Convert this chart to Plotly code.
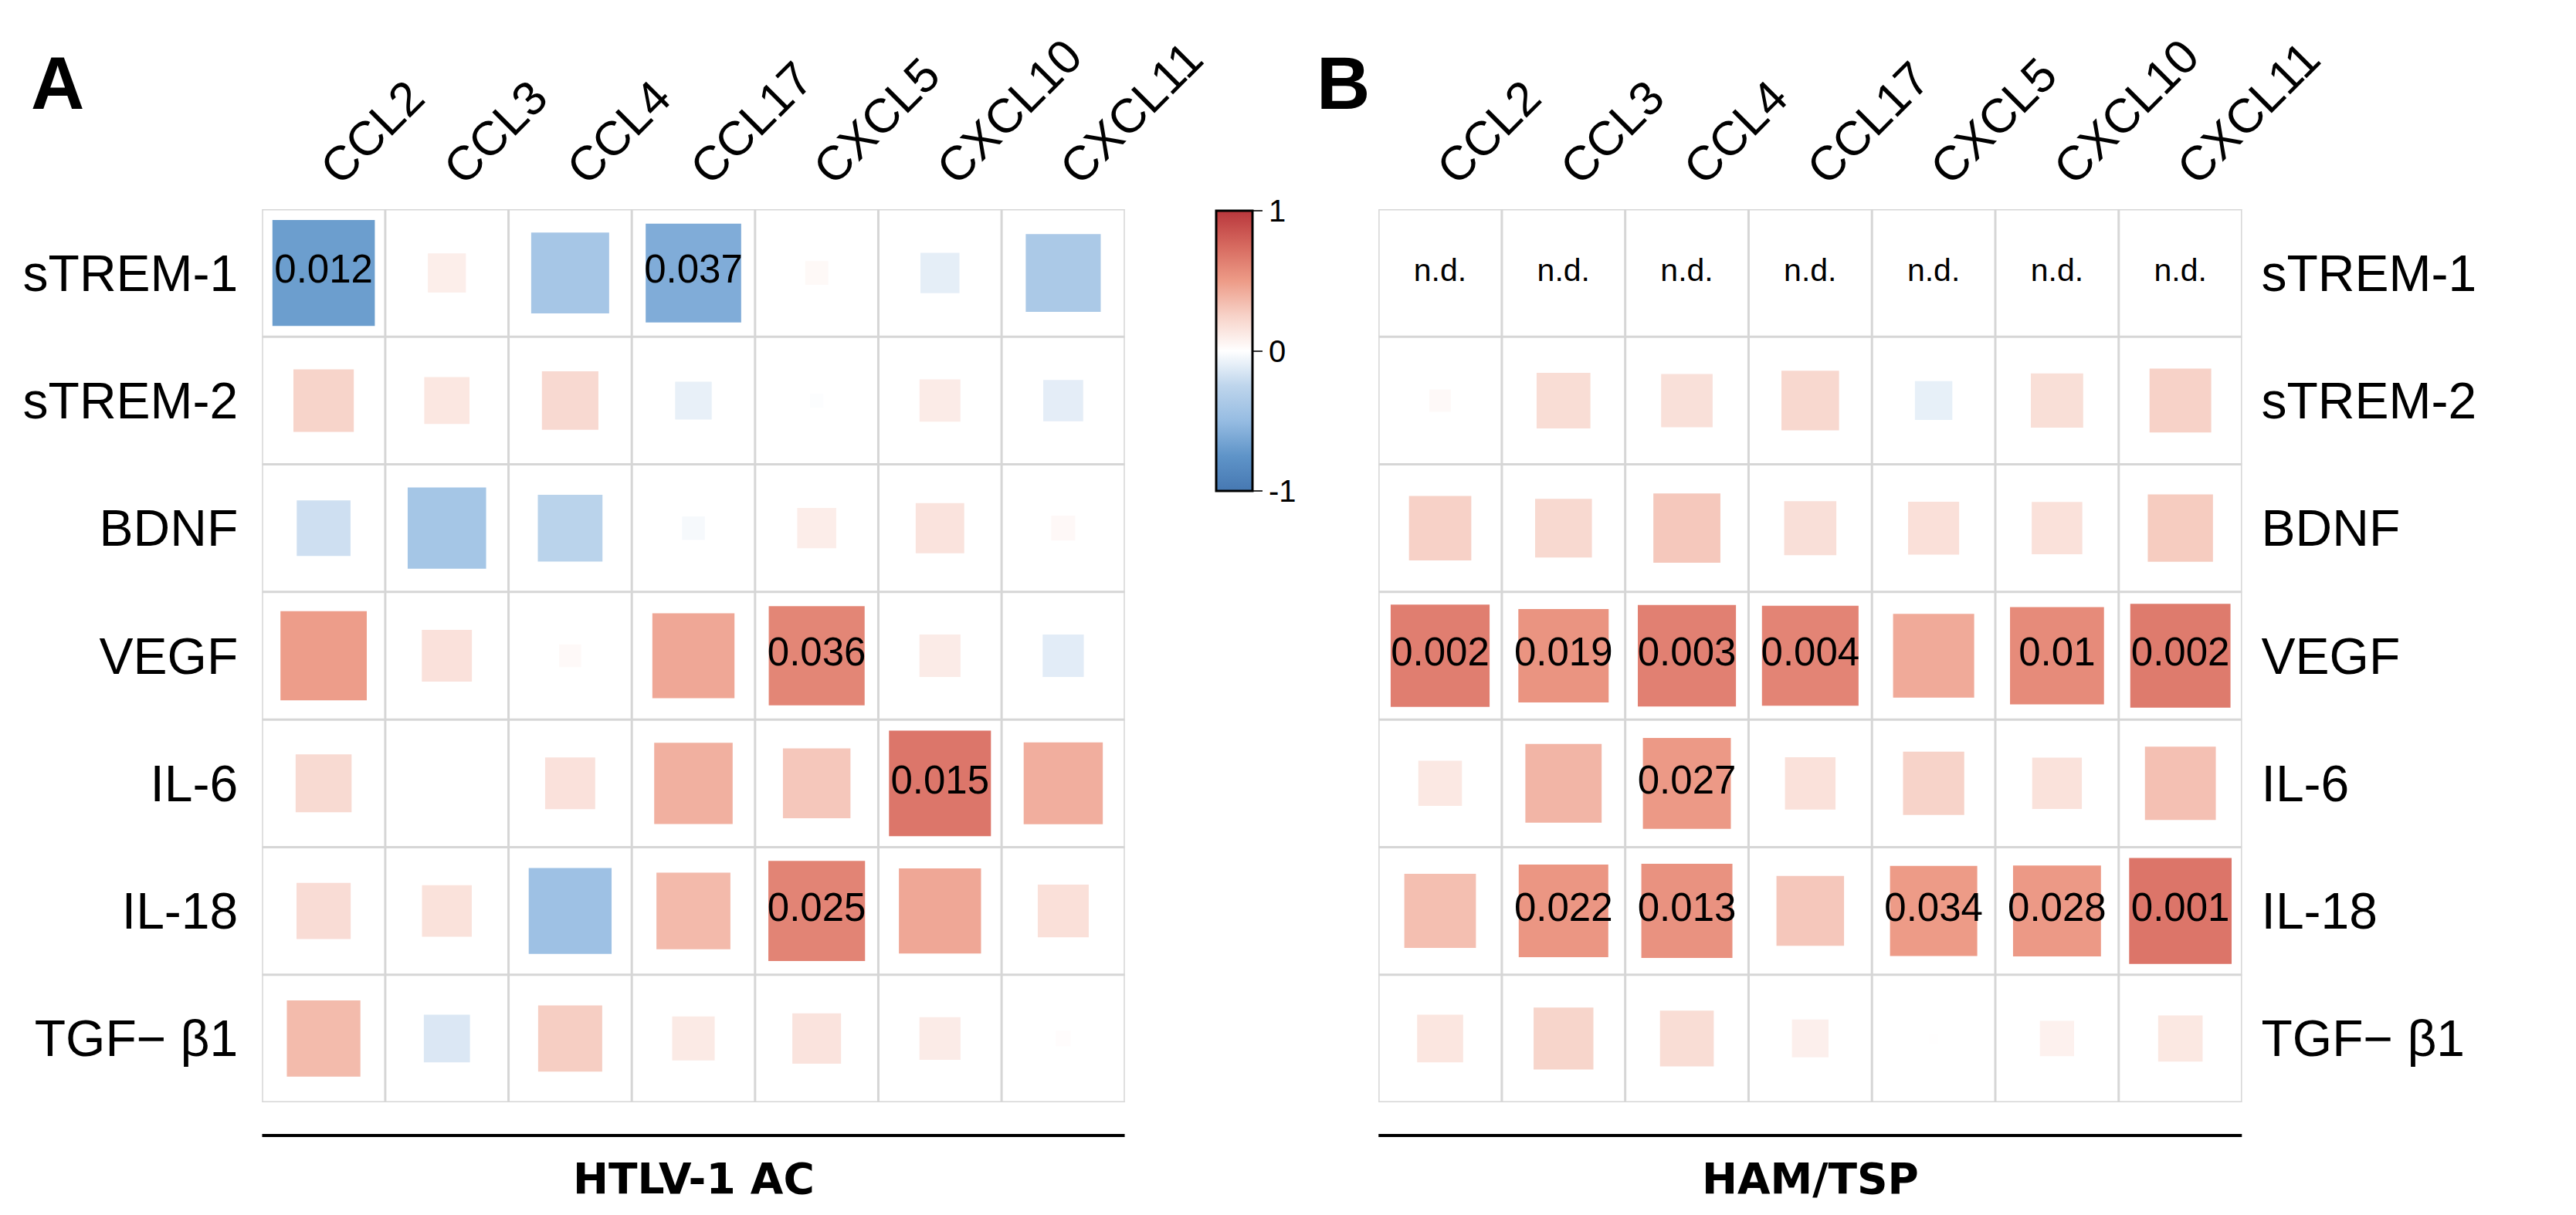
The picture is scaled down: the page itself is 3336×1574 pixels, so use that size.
import math
import plotly.graph_objects as go
from plotly.colors import sample_colorscale

# ---------------- data ----------------
columns = ["CCL2", "CCL3", "CCL4", "CCL17", "CXCL5", "CXCL10", "CXCL11"]
rows = ["sTREM-1", "sTREM-2", "BDNF", "VEGF", "IL-6", "IL-18", "TGF\u2212 \u03b21"]

# Spearman correlations, HTLV-1 asymptomatic carriers (rows x columns)
r_ac = [
    [-0.69, 0.095, -0.40, -0.60, 0.035, -0.10, -0.37],
    [0.24, 0.135, 0.21, -0.088, -0.012, 0.11, -0.105],
    [-0.19, -0.405, -0.275, -0.034, 0.10, 0.155, 0.038],
    [0.49, 0.165, 0.032, 0.444, 0.605, 0.111, -0.111],
    [0.206, 0.002, 0.165, 0.405, 0.30, 0.684, 0.412],
    [0.193, 0.163, -0.452, 0.36, 0.615, 0.444, 0.171],
    [0.356, -0.14, 0.27, 0.119, 0.156, 0.111, 0.015],
]
p_ac = [
    ["0.012", "", "", "0.037", "", "", ""],
    ["", "", "", "", "", "", ""],
    ["", "", "", "", "", "", ""],
    ["", "", "", "", "0.036", "", ""],
    ["", "", "", "", "", "0.015", ""],
    ["", "", "", "", "0.025", "", ""],
    ["", "", "", "", "", "", ""],
]

# Spearman correlations, HAM/TSP patients (sTREM-1 not determined)
r_ham = [
    [None, None, None, None, None, None, None],
    [0.031, 0.19, 0.174, 0.218, -0.092, 0.18, 0.25],
    [0.255, 0.212, 0.295, 0.179, 0.171, 0.168, 0.279],
    [0.643, 0.536, 0.633, 0.613, 0.432, 0.58, 0.66],
    [0.125, 0.382, 0.508, 0.168, 0.246, 0.162, 0.33],
    [0.337, 0.527, 0.545, 0.30, 0.50, 0.508, 0.69],
    [0.139, 0.235, 0.19, 0.088, 0.006, 0.077, 0.13],
]
p_ham = [
    ["n.d.", "n.d.", "n.d.", "n.d.", "n.d.", "n.d.", "n.d."],
    ["", "", "", "", "", "", ""],
    ["", "", "", "", "", "", ""],
    ["0.002", "0.019", "0.003", "0.004", "", "0.01", "0.002"],
    ["", "", "0.027", "", "", "", ""],
    ["", "0.022", "0.013", "", "0.034", "0.028", "0.001"],
    ["", "", "", "", "", "", ""],
]

group_labels = ["HTLV-1 AC", "HAM/TSP"]
panel_letters = ["A", "B"]
colorbar_ticks = [-1, 0, 1]

# colour scale (correlation value -> colour)
color_values = [-1, -0.75, -0.5, -0.25, 0, 0.25, 0.5, 0.75, 1]
color_hex = ["#4678B2", "#5F94C8", "#96BCE2", "#BED5EC", "#FFFFFF",
             "#F7D2C8", "#ED9B87", "#D6695F", "#B9373C"]
colorscale = [[(v + 1) / 2, c] for v, c in zip(color_values, color_hex)]

# ---------------- layout geometry ----------------
W, H = 3336, 1574
GRID_TOP, GRID_BOT = 263, 1420
PANEL_X = [(343, 1500), (1840, 2998)]
LINE_Y = 1463
GROUP_Y = 1519
FONT = "Liberation Sans, Arial, sans-serif"
GRID_COLOR = "#D6D6D6"


def fx(px):
    return px / W


def fy(px):
    return 1 - px / H


fig = go.Figure()
shapes = []
annotations = []
n_r, n_c = len(rows), len(columns)

panels = [(r_ac, p_ac), (r_ham, p_ham)]
for k, (rv, pv) in enumerate(panels):
    xa = "x" if k == 0 else "x2"
    ya = "y" if k == 0 else "y2"
    # grid
    for c in range(n_c + 1):
        shapes.append(dict(type="line", xref=xa, yref=ya, x0=c - 0.5, x1=c - 0.5,
                           y0=-0.5, y1=n_r - 0.5, line=dict(color=GRID_COLOR, width=3),
                           layer="below"))
    for r in range(n_r + 1):
        shapes.append(dict(type="line", xref=xa, yref=ya, x0=-0.5, x1=n_c - 0.5,
                           y0=r - 0.5, y1=r - 0.5, line=dict(color=GRID_COLOR, width=3),
                           layer="below"))
    # squares (below the text traces)
    for i in range(n_r):
        for j in range(n_c):
            val = rv[i][j]
            if val is None:
                continue
            s = math.sqrt(abs(val))
            col = sample_colorscale(colorscale, [(val + 1) / 2])[0]
            shapes.append(dict(type="rect", xref=xa, yref=ya,
                               x0=j - s / 2, x1=j + s / 2, y0=i - s / 2, y1=i + s / 2,
                               fillcolor=col, line=dict(width=0), layer="below"))
    # p-values / n.d. text
    for label_kind, size in (("p", 51), ("nd", 41)):
        xs, ys, ts = [], [], []
        for i in range(n_r):
            for j in range(n_c):
                t = pv[i][j]
                if not t:
                    continue
                if (t == "n.d.") != (label_kind == "nd"):
                    continue
                xs.append(j)
                ys.append(i)
                ts.append(t)
        if xs:
            fig.add_trace(go.Scatter(x=xs, y=ys, text=ts, mode="text", xaxis=xa, yaxis=ya,
                                     textfont=dict(size=size, color="black", family=FONT),
                                     hoverinfo="skip", showlegend=False))
    # black bracket line and group label
    shapes.append(dict(type="line", xref=xa, yref="paper", x0=-0.5, x1=n_c - 0.5,
                       y0=fy(LINE_Y), y1=fy(LINE_Y), line=dict(color="black", width=4)))
    annotations.append(dict(text="<b>%s</b>" % group_labels[k], xref=xa, yref="paper",
                            x=(n_c - 1) / 2, y=fy(GROUP_Y), xanchor="center",
                            yanchor="middle", showarrow=False,
                            font=dict(size=55, color="black", family="DejaVu Sans")))

# panel letters
for k, x_px in enumerate([37, 1761]):
    annotations.append(dict(text="<b>%s</b>" % panel_letters[k], xref="paper", yref="paper",
                            x=fx(x_px - 6), y=fy(44), xanchor="left", yanchor="top",
                            showarrow=False,
                            font=dict(size=96, color="black", family="Liberation Sans, Arial")))

# colour bar
fig.add_trace(go.Scatter(
    x=[0], y=[0], mode="markers", xaxis="x", yaxis="y", hoverinfo="skip", showlegend=False,
    marker=dict(size=1, opacity=0, color=[0], cmin=-1, cmax=1, colorscale=colorscale,
                showscale=True,
                colorbar=dict(x=fx(1622), xanchor="left", xpad=0, y=fy(265), yanchor="top",
                              ypad=0, len=363, lenmode="pixels", thickness=47,
                              thicknessmode="pixels", outlinewidth=3, outlinecolor="black",
                              tickmode="array", tickvals=colorbar_ticks,
                              ticktext=[str(t) for t in colorbar_ticks],
                              ticks="outside", ticklen=12, tickwidth=2, tickcolor="#333333",
                              tickfont=dict(size=40, color="black", family=FONT))),
))

axis_common = dict(showgrid=False, zeroline=False, showline=False, ticks="",
                   fixedrange=True, tickmode="array")
layout_axes = {}
for k in range(2):
    sx = "" if k == 0 else "2"
    x0, x1 = PANEL_X[k]
    layout_axes["xaxis" + sx] = dict(axis_common, domain=[fx(x0), fx(x1)],
                                     range=[-0.5, n_c - 0.5], anchor="y" + sx,
                                     tickvals=list(range(n_c)), ticktext=columns,
                                     side="top", tickangle=-45, ticklabelstandoff=6,
                                     tickfont=dict(size=62, color="black", family=FONT))
    layout_axes["yaxis" + sx] = dict(axis_common, domain=[fy(GRID_BOT), fy(GRID_TOP)],
                                     range=[n_r - 0.5, -0.5], anchor="x" + sx,
                                     tickvals=list(range(n_r)), ticktext=rows,
                                     side="left" if k == 0 else "right",
                                     ticklabelstandoff=30 if k == 0 else 24,
                                     tickfont=dict(size=66, color="black", family=FONT))

fig.update_layout(width=W, height=H, autosize=False,
                  margin=dict(l=0, r=0, t=0, b=0, pad=0),
                  paper_bgcolor="white", plot_bgcolor="white",
                  showlegend=False, shapes=shapes, annotations=annotations,
                  font=dict(family=FONT, color="black"),
                  **layout_axes)

fig.write_html("out.html")
